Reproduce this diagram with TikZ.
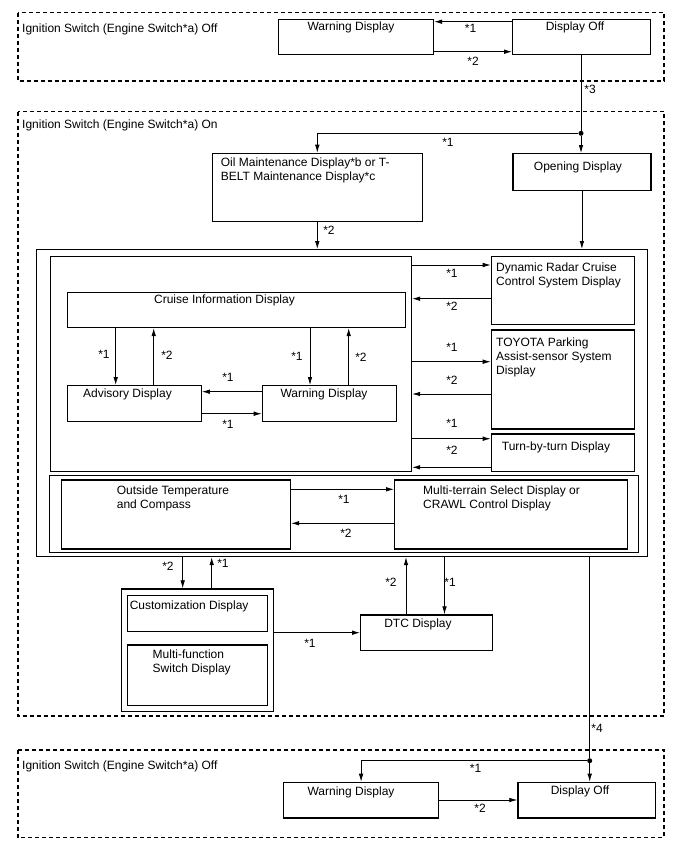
\documentclass[tikz,border=0pt]{standalone}
\usepackage{fontspec}
\setmainfont{Liberation Sans}
\usetikzlibrary{arrows.meta}

\begin{document}
\begin{tikzpicture}[
	x=1pt, y=-1pt,
	every node/.style={font=\fontsize{12}{14.3}\selectfont},
	zone/.style={draw, line width=1.1pt, dash pattern=on 4pt off 3pt},
	box/.style={draw, line width=1.2pt, inner sep=0pt, anchor=north west},
	txt/.style={inner sep=0pt, text height=8.8pt, text depth=2.5pt},
	ltxt/.style={inner sep=0pt, anchor=north west, align=left},
	flow/.style={line width=0.8pt, -{Latex[length=8pt, width=4.6pt]}},
	link/.style={line width=0.8pt},
	dot/.style={circle, fill, inner sep=0pt, minimum size=5pt}
	]
	\useasboundingbox (0,0) rectangle (688,852);

	% switch off (before)
	\draw[zone] (18,12.7) rectangle (664,81);
	\node[txt, anchor=west] (offzoneAlbl) at (22,29) {Ignition Switch (Engine Switch*a) Off};
	\node[box, minimum width=155, minimum height=35] (warnA) at (278,19) {};
	\node[txt] (warnAtxt) at (351,27.5) {Warning Display};
	\node[box, minimum width=138, minimum height=35] (offA) at (512,19) {};
	\node[txt] (offAtxt) at (575,27.5) {Display Off};
	\draw[flow] (offA.west |- 0,21.7) -- (warnA.east |- 0,21.7)
		node[txt] (l1) at (470.6,29.3) {*1};
	\draw[flow] (warnA.east |- 0,51.7) -- (offA.west |- 0,51.7)
		node[txt] (l2) at (473,62.7) {*2};

	% switch on
	\draw[zone] (18,111.7) rectangle (664,716);
	\node[txt, anchor=west] (onzonelbl) at (22,125) {Ignition Switch (Engine Switch*a) On};
	\node[dot] (fork1) at (581,133.3) {};
	\draw[link] (offA.south -| fork1) -- (fork1)
		node[txt] (l3) at (590,90) {*3};
	\node[box, minimum width=210, minimum height=68] (oil) at (211.7,152.7) {};
	\node[ltxt] (oiltxt) at (220.7,157.8) {Oil Maintenance Display*b or T-\\BELT Maintenance Display*c};
	\node[box, minimum width=138, minimum height=37] (opening) at (512.3,153) {};
	\node[txt] (openingtxt) at (578,167) {Opening Display};
	\draw[flow] (fork1) -| (oil.north)
		node[txt] (l4) at (448,143.7) {*1};
	\draw[flow] (fork1) -- (fork1 |- opening.north);

	\node[box, minimum width=611, minimum height=307] (big) at (36,249) {};
	\draw[flow] (oil.south) -- (oil.south |- big.north)
		node[txt] (l5) at (329,231) {*2};
	\draw[flow] (opening.south) -- (opening.south |- big.north);

	\node[box, minimum width=361, minimum height=215] (upper) at (50,256) {};
	\node[box, minimum width=338.3, minimum height=35.3] (cruise) at (66.7,291.7) {};
	\node[txt] (cruisetxt) at (224.5,300.3) {Cruise Information Display};
	\node[box, minimum width=134, minimum height=35.7] (adv) at (66.7,385) {};
	\node[txt] (advtxt) at (127.5,394.3) {Advisory Display};
	\node[box, minimum width=134, minimum height=35.7] (warnB) at (261.7,385) {};
	\node[txt] (warnBtxt) at (324,394.3) {Warning Display};
	\draw[flow] (cruise.south -| 115.7,0) -- (adv.north -| 115.7,0)
		node[txt] (l6) at (104,355) {*1};
	\draw[flow] (adv.north -| 153.7,0) -- (cruise.south -| 153.7,0)
		node[txt] (l7) at (167,356) {*2};
	\draw[flow] (cruise.south -| 310,0) -- (warnB.north -| 310,0)
		node[txt] (l8) at (297,357) {*1};
	\draw[flow] (warnB.north -| 348.7,0) -- (cruise.south -| 348.7,0)
		node[txt] (l9) at (361,358) {*2};
	\draw[flow] (warnB.west |- 0,391.7) -- (adv.east |- 0,391.7)
		node[txt] (l10) at (228,378) {*1};
	\draw[flow] (adv.east |- 0,413.7) -- (warnB.west |- 0,413.7)
		node[txt] (l11) at (228,425) {*1};

	\node[box, minimum width=143.3, minimum height=68] (dyn) at (490.7,256) {};
	\node[ltxt] (dyntxt) at (496,262.2) {Dynamic Radar Cruise\\Control System Display};
	\node[box, minimum width=143.3, minimum height=99] (toyota) at (490.7,329.3) {};
	\node[ltxt] (toyotatxt) at (496,337.2) {TOYOTA Parking\\Assist-sensor System\\Display};
	\node[box, minimum width=143.3, minimum height=37.4] (turn) at (490.7,433.3) {};
	\node[txt] (turntxt) at (556,447) {Turn-by-turn Display};
	\draw[flow] (upper.east |- 0,265) -- (dyn.west |- 0,265)
		node[txt] (l12) at (452,274) {*1};
	\draw[flow] (dyn.west |- 0,298.7) -- (upper.east |- 0,298.7)
		node[txt] (l13) at (452,307.7) {*2};
	\draw[flow] (upper.east |- 0,361.7) -- (toyota.west |- 0,361.7)
		node[txt] (l14) at (452,348.3) {*1};
	\draw[flow] (toyota.west |- 0,394) -- (upper.east |- 0,394)
		node[txt] (l15) at (452,381) {*2};
	\draw[flow] (upper.east |- 0,438.7) -- (turn.west |- 0,438.7)
		node[txt] (l16) at (452,424.3) {*1};
	\draw[flow] (turn.west |- 0,467.3) -- (upper.east |- 0,467.3)
		node[txt] (l17) at (452,451.7) {*2};

	\node[box, minimum width=589, minimum height=76.7] (lower) at (49,475) {};
	\node[box, minimum width=229, minimum height=69] (outside) at (61,479.3) {};
	\node[ltxt] (outsidetxt) at (116.7,485.5) {Outside Temperature\\and Compass};
	\node[box, minimum width=233, minimum height=69] (multi) at (394,479.3) {};
	\node[ltxt] (multitxt) at (423,485.5) {Multi-terrain Select Display or\\CRAWL Control Display};
	\draw[flow] (outside.east |- 0,489.3) -- (multi.west |- 0,489.3)
		node[txt] (l18) at (344,500) {*1};
	\draw[flow] (multi.west |- 0,523.3) -- (outside.east |- 0,523.3)
		node[txt] (l19) at (346,534) {*2};

	\node[box, minimum width=152, minimum height=122.7] (custom) at (121,588.3) {};
	\node[box, minimum width=140, minimum height=35.7] (customdisp) at (127,595) {};
	\node[txt, anchor=west] (customtxt) at (129.6,606) {Customization Display};
	\node[box, minimum width=140, minimum height=60.7] (mfs) at (127,644.3) {};
	\node[ltxt] (mfstxt) at (152.5,649.5) {Multi-function\\Switch Display};
	\node[box, minimum width=132, minimum height=35.7] (dtc) at (360,614.3) {};
	\node[txt] (dtctxt) at (418,624.3) {DTC Display};
	\draw[flow] (big.south -| 182.7,0) -- (custom.north -| 182.7,0)
		node[txt] (l20) at (168,567) {*2};
	\draw[flow] (custom.north -| 211.7,0) -- (big.south -| 211.7,0)
		node[txt] (l21) at (223,564) {*1};
	\draw[flow] (custom.east |- 0,632.7) -- (dtc.west |- 0,632.7)
		node[txt] (l22) at (310,644) {*1};
	\draw[flow] (dtc.north -| 406,0) -- (big.south -| 406,0)
		node[txt] (l23) at (391,583) {*2};
	\draw[flow] (big.south -| 444.5,0) -- (dtc.north -| 444.5,0)
		node[txt] (l24) at (450,583) {*1};

	% switch off (after)
	\draw[zone] (18,750) rectangle (664,837.7);
	\node[txt, anchor=west] (offzoneBlbl) at (22,766) {Ignition Switch (Engine Switch*a) Off};
	\node[dot] (fork2) at (589.7,760.7) {};
	\draw[link] (big.south -| fork2) -- (fork2)
		node[txt] (l25) at (597,729) {*4};
	\node[box, minimum width=155, minimum height=35.6] (warnC) at (283,781.7) {};
	\node[txt] (warnCtxt) at (351,792) {Warning Display};
	\node[box, minimum width=137.4, minimum height=35.6] (offC) at (517.3,781.7) {};
	\node[txt] (offCtxt) at (580,791.7) {Display Off};
	\draw[flow] (fork2) -| (warnC.north)
		node[txt] (l26) at (475.5,769.3) {*1};
	\draw[flow] (fork2) -- (fork2 |- offC.north);
	\draw[flow] (warnC.east |- 0,800) -- (offC.west |- 0,800)
		node[txt] (l27) at (480,809.3) {*2};
\end{tikzpicture}
\end{document}
